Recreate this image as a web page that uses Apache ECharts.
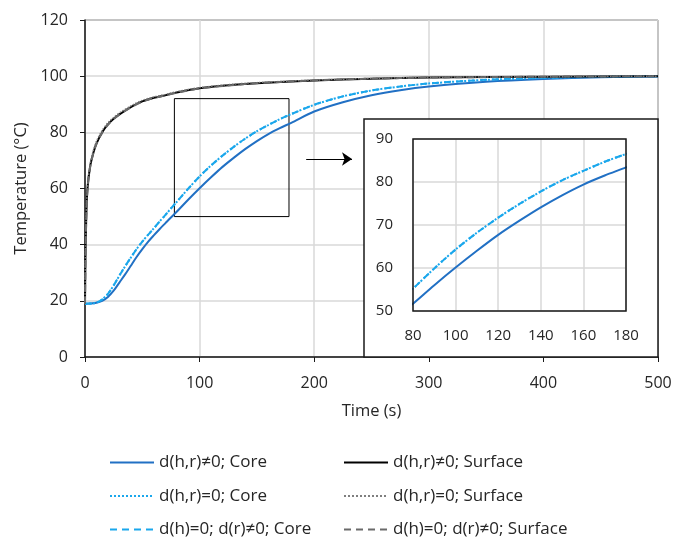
<!DOCTYPE html>
<html>
<head>
<meta charset="utf-8">
<script src="https://cdn.jsdelivr.net/npm/echarts@6/dist/echarts.min.js"></script>
<style>html,body{margin:0;padding:0;background:#fff}#c{width:688px;height:538px}</style>
</head>
<body>
<div id="c"></div>
<script>
// ---- data ----
const coreTime = [0,5,10,15,20,25,30,35,40,45,50,55,60,65,70,75,80,90,100,110,120,130,140,150,160,170,180,200,225,250,275,300,350,400,450,500];
const coreFull = [19,19.05,19.3,20,21.4,23.6,26.5,29.4,32.5,35.6,38.4,41,43.3,45.5,47.6,49.7,51.7,56,60.1,64,67.7,71,74.1,76.9,79.4,81.5,83.4,87.4,90.7,93.2,95,96.3,98,99,99.6,99.9];
const coreNoDiff = [19,19.05,19.4,20.5,22.5,25.5,29,32.3,35.4,38.4,41.1,43.5,45.8,48.2,50.5,52.9,55.2,59.9,64.3,68.2,71.7,74.9,77.8,80.4,82.6,84.7,86.5,89.8,92.8,94.9,96.3,97.4,98.7,99.4,99.8,100];
const coreRadial = [19,19.05,19.4,20.5,22.5,25.5,29,32.3,35.4,38.4,41.1,43.5,45.8,48.2,50.5,52.9,55.2,59.9,64.3,68.2,71.7,74.9,77.8,80.4,82.6,84.7,86.5,89.8,92.8,94.9,96.3,97.4,98.7,99.4,99.8,100];
const surfTime = [0,0.5,1,1.5,2,3,4,5,7.5,10,15,20,25,30,40,50,60,70,80,100,125,150,200,250,300,400,500];
const surfFull = [19,38,48,55,59,63.5,66.5,69,73,76,80,82.8,84.8,86.4,89,91,92.3,93.2,94.2,95.7,96.8,97.5,98.5,99.1,99.5,99.8,100];
const surfNoDiff = [19,39,49,56,60,64.3,67.3,69.8,73.8,76.8,80.7,83.4,85.3,86.9,89.4,91.4,92.6,93.5,94.5,95.9,97,97.7,98.6,99.2,99.6,99.8,100];
const surfRadial = [19,37,47.5,54.5,58.5,63.2,66.3,68.8,72.9,75.9,79.9,82.7,84.7,86.3,88.9,90.9,92.2,93.1,94.1,95.6,96.7,97.5,98.5,99.1,99.5,99.8,100];
const seriesNames = ['d(h,r)≠0; Core','d(h,r)=0; Core','d(h)=0; d(r)≠0; Core','d(h,r)≠0; Surface','d(h,r)=0; Surface','d(h)=0; d(r)≠0; Surface'];
const xTicks = {min:0, max:500, step:100};
const yTicks = {min:0, max:120, step:20};
const insetX = {min:80, max:180, step:20};
const insetY = {min:50, max:90, step:10};
const zoomBox = [[78,50],[178,92]];
const arrowPts = [[193,70.5],[233,70.5]];
const axisTitles = {x:'Time (s)', y:'Temperature (°C)'};

// ---- build ----
const pair = (t, v) => t.map((x, i) => [x, v[i]]);
const FONT = 'Open Sans';
const TXT = '#262626';
const DARK = '#2170C4', LIGHT = '#1AA7EC', GRAY1 = '#7f7f7f', GRAY2 = '#6a6a6a';

const defs = [
  {name: seriesNames[0], t: coreTime, v: coreFull, color: DARK, type: 'solid', w: 2},
  {name: seriesNames[1], t: coreTime, v: coreNoDiff, color: LIGHT, type: 'dotted', w: 2},
  {name: seriesNames[2], t: coreTime, v: coreRadial, color: LIGHT, type: [7,5], w: 2},
  {name: seriesNames[3], t: surfTime, v: surfFull, color: '#000000', type: 'solid', w: 2},
  {name: seriesNames[4], t: surfTime, v: surfNoDiff, color: GRAY1, type: 'dotted', w: 1.5},
  {name: seriesNames[5], t: surfTime, v: surfRadial, color: GRAY2, type: [7,5], w: 2}
];

const series = defs.map(d => ({
  name: d.name, type: 'line', xAxisIndex: 0, yAxisIndex: 0,
  data: pair(d.t, d.v), symbol: 'none', smooth: 0.3,
  lineStyle: {color: d.color, type: d.type, width: d.w}, itemStyle: {color: d.color},
  z: 3
}));
// zoom box and arrow
series[0].markArea = {silent: true, itemStyle: {color: 'rgba(0,0,0,0)', borderColor: '#000', borderWidth: 1},
  data: [[{coord: zoomBox[0]}, {coord: zoomBox[1]}]]};
series[0].markLine = {silent: true, symbol: ['none', 'arrow'], symbolSize: [10, 10], label: {show: false},
  lineStyle: {color: '#000', type: 'solid', width: 1},
  data: [[{coord: arrowPts[0]}, {coord: arrowPts[1]}]]};
// inset series
defs.slice(0, 3).forEach(d => series.push({
  name: d.name, type: 'line', xAxisIndex: 1, yAxisIndex: 1,
  data: pair(d.t, d.v), symbol: 'none', smooth: 0.3, clip: true,
  lineStyle: {color: d.color, type: d.type, width: d.w}, itemStyle: {color: d.color},
  z: 15
}));

const axisLbl = (size, margin) => ({fontFamily: FONT, fontSize: size, color: TXT, margin: margin});
const legendCommon = {orient: 'vertical', itemWidth: 44, itemHeight: 14, itemGap: 16.5, padding: 0, height: 120,
  itemStyle: {opacity: 0},
  textStyle: {fontFamily: FONT, fontSize: 17, color: TXT}, top: 454};

const option = {
  animation: false,
  backgroundColor: '#fff',
  legend: [
    Object.assign({left: 109, data: seriesNames.slice(0, 3)}, legendCommon),
    Object.assign({left: 343, data: seriesNames.slice(3)}, legendCommon)
  ],
  grid: [
    {left: 85, top: 20, width: 573, height: 337, show: true, borderColor: '#1a1a1a', borderWidth: 1, backgroundColor: 'transparent'},
    {left: 413, top: 139, width: 213, height: 172, z: 10}
  ],
  xAxis: [
    {type: 'value', gridIndex: 0, min: xTicks.min, max: xTicks.max, interval: xTicks.step,
      name: axisTitles.x, nameLocation: 'middle', nameGap: 46,
      nameTextStyle: {fontFamily: FONT, fontSize: 16.5, color: TXT},
      axisLine: {lineStyle: {color: '#1a1a1a', width: 1.5}}, axisTick: {show: true, length: 5, lineStyle: {color: '#1a1a1a'}},
      splitLine: {show: true, lineStyle: {color: '#d9d9d9', width: 1.5}}, axisLabel: axisLbl(16, 18)},
    {type: 'value', gridIndex: 1, min: insetX.min, max: insetX.max, interval: insetX.step, z: 12,
      axisLine: {show: false}, axisTick: {show: false},
      splitLine: {show: true, lineStyle: {color: '#d9d9d9', width: 1.5}}, axisLabel: axisLbl(15, 17)}
  ],
  yAxis: [
    {type: 'value', gridIndex: 0, min: yTicks.min, max: yTicks.max, interval: yTicks.step,
      name: axisTitles.y, nameLocation: 'middle', nameGap: 52, nameRotate: 90,
      nameTextStyle: {fontFamily: FONT, fontSize: 16.5, color: TXT},
      axisLine: {show: true, lineStyle: {color: '#1a1a1a', width: 1.5}}, axisTick: {show: true, length: 5, lineStyle: {color: '#1a1a1a'}},
      splitLine: {show: true, lineStyle: {color: '#d9d9d9', width: 1.5}}, axisLabel: axisLbl(16, 17)},
    {type: 'value', gridIndex: 1, min: insetY.min, max: insetY.max, interval: insetY.step, z: 12,
      axisLine: {show: false}, axisTick: {show: false},
      splitLine: {show: true, lineStyle: {color: '#d9d9d9', width: 1.5}}, axisLabel: axisLbl(15, 20)}
  ],
  graphic: [
    {type: 'rect', z: 8, shape: {x: 364, y: 119, width: 294, height: 238},
      style: {fill: '#fff', stroke: '#1a1a1a', lineWidth: 1.5}},
    {type: 'rect', z: 20, shape: {x: 413, y: 139, width: 213, height: 172},
      style: {fill: 'none', stroke: '#1a1a1a', lineWidth: 1.5}}
  ],
  series: series
};

const chart = echarts.init(document.getElementById('c'), null, {renderer: 'canvas'});
chart.setOption(option);
</script>
</body>
</html>
